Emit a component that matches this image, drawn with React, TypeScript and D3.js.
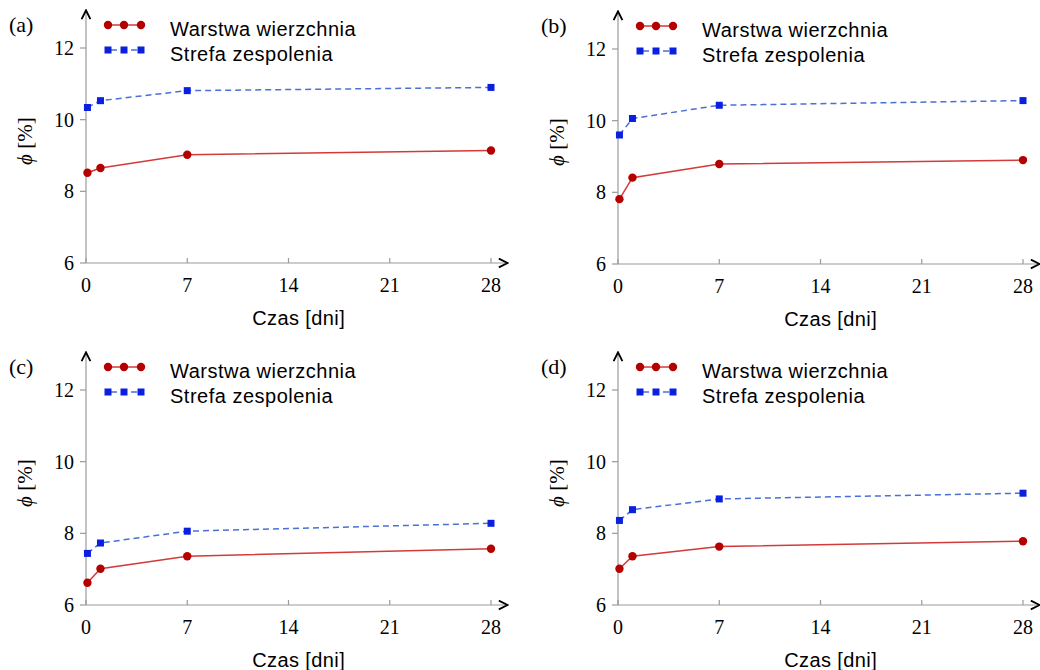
import React, { useRef, useEffect } from "react";
import * as d3 from "d3";

// days of measurement
const days = [0.1, 1, 7, 28];

const panelLabels = ["(a)", "(b)", "(c)", "(d)"];

// Warstwa wierzchnia (red, solid)
const warstwaA = [8.52, 8.65, 9.02, 9.14];
const warstwaB = [7.81, 8.41, 8.79, 8.9];
const warstwaC = [6.62, 7.01, 7.36, 7.57];
const warstwaD = [7.01, 7.36, 7.63, 7.78];

// Strefa zespolenia (blue, dashed)
const strefaA = [10.34, 10.53, 10.81, 10.9];
const strefaB = [9.6, 10.06, 10.43, 10.56];
const strefaC = [7.44, 7.73, 8.06, 8.28];
const strefaD = [8.36, 8.66, 8.96, 9.12];

const xTicks = [0, 7, 14, 21, 28];
const yTicks = [6, 8, 10, 12];
const seriesNames = ["Warstwa wierzchnia", "Strefa zespolenia"];

const warstwa = [warstwaA, warstwaB, warstwaC, warstwaD];
const strefa = [strefaA, strefaB, strefaC, strefaD];

const RED_LINE = "#d33a3a";
const RED_DOT = "#b50000";
const BLUE_LINE = "#4a6fd6";
const BLUE_SQ = "#0a1fe0";
const AXIS = "#9a9a9a";
const SERIF = "Liberation Serif";
const SANS = "Liberation Sans";

function App() {
  const svgRef = useRef<SVGSVGElement>(null);

  useEffect(() => {
    const svg = d3.select(svgRef.current);
    svg.selectAll("*").remove();

    const defs = svg.append("defs");
    defs.append("marker")
      .attr("id", "arrow")
      .attr("viewBox", "0 0 10 10")
      .attr("refX", 9)
      .attr("refY", 5)
      .attr("markerWidth", 11)
      .attr("markerHeight", 11)
      .attr("markerUnits", "userSpaceOnUse")
      .attr("orient", "auto")
      .append("path")
      .attr("d", "M1,1 L9,5 L1,9")
      .attr("fill", "none")
      .attr("stroke", "#000")
      .attr("stroke-width", 1.7);

    const origins = [
      { x: 86, y: 263 },
      { x: 618, y: 264 },
      { x: 86, y: 605 },
      { x: 618, y: 605 },
    ];

    origins.forEach((o, i) => {
      const xScale = d3.scaleLinear().domain([0, 28]).range([o.x, o.x + 405]);
      const yScale = d3.scaleLinear().domain([6, 12]).range([o.y, o.y - 215]);

      const g = svg.append("g");

      // axes
      g.append("line")
        .attr("x1", xScale(0)).attr("x2", xScale(29.15))
        .attr("y1", yScale(6)).attr("y2", yScale(6))
        .attr("stroke", AXIS).attr("stroke-width", 1.2)
        .attr("marker-end", "url(#arrow)");
      g.append("line")
        .attr("x1", xScale(0)).attr("x2", xScale(0))
        .attr("y1", yScale(6)).attr("y2", yScale(13.05))
        .attr("stroke", AXIS).attr("stroke-width", 1.2)
        .attr("marker-end", "url(#arrow)");

      g.selectAll(".xtick")
        .data(xTicks)
        .join("line")
        .attr("x1", d => xScale(d)).attr("x2", d => xScale(d))
        .attr("y1", yScale(6)).attr("y2", yScale(6) - 5)
        .attr("stroke", AXIS).attr("stroke-width", 1.2);
      g.selectAll(".xlab")
        .data(xTicks)
        .join("text")
        .attr("x", d => xScale(d))
        .attr("y", yScale(6) + 29)
        .attr("text-anchor", "middle")
        .attr("font-family", SERIF)
        .attr("font-size", 20)
        .text(d => d);

      g.selectAll(".ytick")
        .data(yTicks)
        .join("line")
        .attr("x1", xScale(0) - 6).attr("x2", xScale(0))
        .attr("y1", d => yScale(d)).attr("y2", d => yScale(d))
        .attr("stroke", AXIS).attr("stroke-width", 1.2);
      g.selectAll(".ylab")
        .data(yTicks)
        .join("text")
        .attr("x", xScale(0) - 12)
        .attr("y", d => yScale(d) + 7)
        .attr("text-anchor", "end")
        .attr("font-family", SERIF)
        .attr("font-size", 20)
        .text(d => d);

      // axis titles
      g.append("text")
        .attr("x", xScale(14.7))
        .attr("y", yScale(6) + 62)
        .attr("text-anchor", "middle")
        .attr("font-family", SANS)
        .attr("font-size", 20)
        .attr("letter-spacing", 0.4)
        .text("Czas [dni]");

      const yl = g.append("text")
        .attr("transform", `translate(${xScale(0) - 54},${yScale(9.4)}) rotate(-90)`)
        .attr("text-anchor", "middle")
        .attr("font-family", SERIF)
        .attr("font-size", 21);
      yl.append("tspan").attr("font-style", "italic").text("ϕ");
      yl.append("tspan").text(" [%]");

      g.append("text")
        .attr("x", xScale(0) - 77)
        .attr("y", yScale(12) - 16)
        .attr("font-family", SERIF)
        .attr("font-size", 22)
        .text(panelLabels[i]);

      // series
      const lineGen = d3.line<number>()
        .x((d, j) => xScale(days[j]))
        .y(d => yScale(d));

      g.append("path")
        .attr("d", lineGen(strefa[i]))
        .attr("fill", "none")
        .attr("stroke", BLUE_LINE)
        .attr("stroke-width", 1.5)
        .attr("stroke-dasharray", "6,4");
      g.selectAll(".sq")
        .data(strefa[i])
        .join("rect")
        .attr("x", (d, j) => xScale(days[j]) - 3.5)
        .attr("y", d => yScale(d) - 3.5)
        .attr("width", 7)
        .attr("height", 7)
        .attr("fill", BLUE_SQ);

      g.append("path")
        .attr("d", lineGen(warstwa[i]))
        .attr("fill", "none")
        .attr("stroke", RED_LINE)
        .attr("stroke-width", 1.5);
      g.selectAll(".dot")
        .data(warstwa[i])
        .join("circle")
        .attr("cx", (d, j) => xScale(days[j]))
        .attr("cy", d => yScale(d))
        .attr("r", 4.2)
        .attr("fill", RED_DOT);

      // legend
      const lx = xScale(0) + 22;
      const legY = [yScale(12) - 23, yScale(12) + 2];
      const symX = [0, 16, 33];
      g.append("line")
        .attr("x1", lx).attr("x2", lx + 33)
        .attr("y1", legY[0]).attr("y2", legY[0])
        .attr("stroke", RED_LINE).attr("stroke-width", 1.5);
      g.selectAll(".ldot")
        .data(symX)
        .join("circle")
        .attr("cx", d => lx + d).attr("cy", legY[0]).attr("r", 4.2)
        .attr("fill", RED_DOT);
      g.append("line")
        .attr("x1", lx).attr("x2", lx + 33)
        .attr("y1", legY[1]).attr("y2", legY[1])
        .attr("stroke", BLUE_LINE).attr("stroke-width", 1.5)
        .attr("stroke-dasharray", "6,4").attr("stroke-dashoffset", -3);
      g.selectAll(".lsq")
        .data(symX)
        .join("rect")
        .attr("x", d => lx + d - 3.5).attr("y", legY[1] - 3.5)
        .attr("width", 7).attr("height", 7)
        .attr("fill", BLUE_SQ);
      g.selectAll(".ltxt")
        .data(seriesNames)
        .join("text")
        .attr("x", lx + 62)
        .attr("y", (d, j) => legY[j] + 11)
        .attr("font-family", SANS)
        .attr("font-size", 20)
        .attr("letter-spacing", 0.5)
        .text(d => d);
    });
  }, []);

  return (
    <div style={{ position: "absolute", left: 0, top: 0 }}>
      <svg ref={svgRef} width={1040} height={670} style={{ display: "block", background: "#fff" }}></svg>
    </div>
  );
}

export default App;
